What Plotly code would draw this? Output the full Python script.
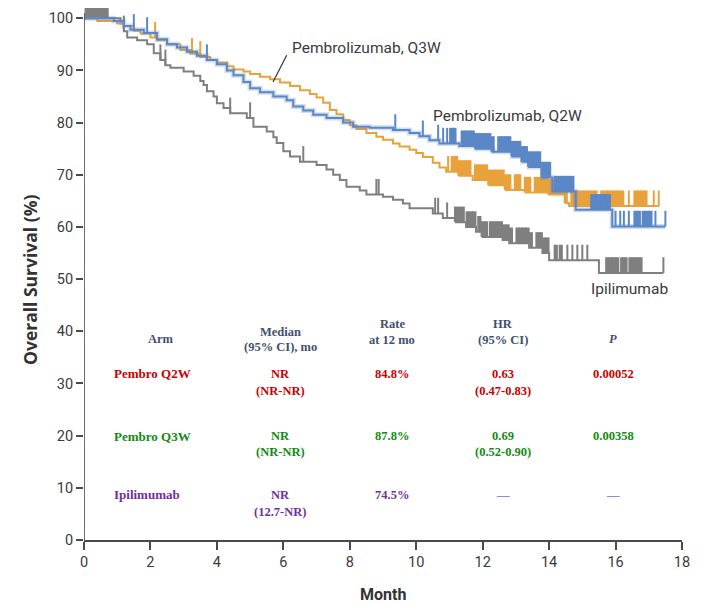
import numpy as np
import plotly.graph_objects as go

# ---------------- data ----------------
q2w_t = [0, 0.9, 1.2, 1.4, 1.8, 2.2, 2.5, 2.8, 3.1, 3.4, 3.7, 4.0, 4.3, 4.5, 4.8, 5.0, 5.3, 5.7, 6.1, 6.3,
         6.6, 6.9, 7.3, 7.8, 8.1, 8.6, 9.3, 9.8, 10.1, 10.4, 10.7, 11.3, 11.8, 12.3, 12.9, 13.2, 13.4, 13.8,
         14.1, 14.8, 15.9, 17.5]
q2w_s = [100, 99.5, 98.5, 97.8, 97.2, 96.0, 95.0, 94.4, 93.6, 92.8, 92.0, 91.2, 90.0, 89.1, 87.8, 86.6, 85.8,
         85.0, 84.3, 83.1, 82.3, 81.5, 80.9, 80.0, 79.2, 79.0, 78.6, 78.0, 77.4, 76.6, 76.0, 75.5, 75.0, 74.4,
         73.5, 72.5, 71.5, 69.5, 66.8, 63.3, 60.1, 60.1]

q3w_t = [0, 0.4, 1.0, 1.2, 1.5, 1.7, 2.0, 2.2, 2.5, 2.9, 3.2, 3.5, 3.8, 4.0, 4.3, 4.5, 4.8, 5.0, 5.3, 5.6,
         5.9, 6.2, 6.5, 6.8, 7.0, 7.2, 7.4, 7.6, 7.8, 8.0, 8.2, 8.5, 8.8, 9.0, 9.3, 9.5, 9.8, 10.0, 10.2, 10.5,
         10.7, 10.9, 11.3, 11.7, 12.2, 12.7, 13.3, 14.0, 14.5, 14.6, 17.3]
q3w_s = [100, 99.5, 99.0, 98.5, 97.6, 97.1, 96.3, 95.8, 95.0, 93.9, 93.2, 92.6, 92.0, 91.5, 90.8, 90.2, 89.8,
         89.3, 88.8, 88.3, 87.7, 87.0, 86.2, 85.5, 84.8, 83.8, 82.4, 81.6, 80.5, 79.5, 78.8, 78.0, 77.3, 76.7,
         76.0, 75.4, 74.8, 74.2, 73.4, 72.3, 71.4, 70.6, 69.8, 69.0, 68.0, 67.1, 66.6, 66.2, 64.6, 64.0, 64.0]

ipi_t = [0, 1.1, 1.2, 1.3, 1.6, 1.9, 2.1, 2.3, 2.45, 2.6, 3.0, 3.3, 3.5, 3.6, 3.7, 3.9, 4.0, 4.2, 4.4, 4.9,
         5.1, 5.5, 5.7, 5.8, 6.0, 6.2, 6.5, 7.0, 7.3, 7.5, 7.7, 7.9, 8.3, 8.5, 9.0, 9.3, 9.6, 9.8, 10.5, 10.8,
         11.2, 11.5, 11.8, 12.0, 12.6, 12.8, 13.4, 13.8, 14.0, 15.5, 17.44]
ipi_s = [100, 99.0, 97.5, 96.3, 95.8, 95.0, 93.3, 92.0, 91.0, 90.5, 89.8, 89.0, 88.0, 87.2, 86.0, 85.0, 83.7,
         82.8, 81.8, 80.9, 79.2, 78.3, 77.2, 76.1, 74.5, 73.5, 72.5, 71.9, 71.0, 70.0, 69.0, 67.7, 67.0, 66.2,
         65.8, 65.2, 64.5, 63.6, 62.6, 61.7, 60.9, 60.0, 59.1, 58.1, 57.5, 56.9, 56.0, 55.0, 53.6, 51.2, 51.2]

# censoring times (single ticks)
q2w_cens = [1.5, 1.9, 3.7, 9.37, 10.2, 10.66, 10.81, 10.93, 11.02, 16.0, 16.14, 16.25, 16.4, 17.2, 17.5]
q3w_cens = [2.14, 3.25, 3.5, 10.96, 16.4, 17.15, 17.3]
ipi_cens = [1.2, 2.3, 2.45, 4.4, 5.0, 6.6, 8.8, 8.87, 10.57, 10.66, 10.93, 14.55, 14.7, 14.85, 15.0, 15.15, 17.44]

# censoring times in dense runs
q2w_cens_dense = [11.1, 11.15, 11.4, 11.5, 11.6, 11.7, 11.8, 11.9, 12.0, 12.1, 12.2, 12.3, 12.5, 12.6, 12.7,
                  12.8, 12.9, 13.0, 13.1, 13.2, 13.3, 13.4, 13.5, 13.6, 13.7, 13.8, 13.9, 14.0, 14.2, 14.3,
                  14.4, 14.5, 14.6, 14.7, 15.3, 15.4, 15.5, 15.6, 15.7, 15.8, 16.6, 16.7, 16.85, 16.95, 17.05]
q3w_cens_dense = [11.1, 11.2, 11.3, 11.4, 11.5, 11.6, 11.8, 11.9, 12.0, 12.1, 12.2, 12.3, 12.4, 12.5, 12.6,
                  12.7, 12.8, 13.0, 13.1, 13.3, 13.4, 13.6, 13.7, 13.8, 13.9, 14.0, 14.1, 14.2, 14.3, 14.4,
                  14.5, 14.7, 14.8, 14.9, 15.0, 15.1, 15.2, 15.3, 15.4, 15.6, 15.7, 15.8, 15.9, 16.0, 16.1,
                  16.2, 16.6, 16.7, 16.8, 16.9]
ipi_cens_dense = [0.08, 0.18, 0.28, 0.38, 0.48, 0.58, 0.68, 11.2, 11.3, 11.4, 11.55, 11.65, 11.75, 11.9, 12.0,
                  12.1, 12.25, 12.35, 12.45, 12.55, 12.65, 12.75, 12.85, 13.05, 13.15, 13.25, 13.35, 13.45,
                  13.65, 13.75, 13.85, 13.95, 14.2, 14.35, 15.75, 15.85, 15.95, 16.05, 16.2, 16.3, 16.45,
                  16.55, 16.65, 16.75]

curve_labels = ["Pembrolizumab, Q3W", "Pembrolizumab, Q2W", "Ipilimumab"]

x_ticks = [0, 2, 4, 6, 8, 10, 12, 14, 16, 18]
y_ticks = [0, 10, 20, 30, 40, 50, 60, 70, 80, 90, 100]

table_header = [["Arm"], ["Median", "(95% CI), mo"], ["Rate", "at 12 mo"], ["HR", "(95% CI)"], ["<i>P</i>"]]
table_arms = ["Pembro Q2W", "Pembro Q3W", "Ipilimumab"]
table_median = [["NR", "(NR-NR)"], ["NR", "(NR-NR)"], ["NR", "(12.7-NR)"]]
table_rate = [["84.8%"], ["87.8%"], ["74.5%"]]
table_hr = [["0.63", "(0.47-0.83)"], ["0.69", "(0.52-0.90)"], ["—"]]
table_p = [["0.00052"], ["0.00358"], ["—"]]

# ---------------- style / layout ----------------
BLUE = "#5b87c6"
ORANGE = "#e9a23b"
GRAY = "#7f7f7f"
TXT = "#3a3a3a"
TICK_H = 3.0
SANS = "Roboto, Arial, sans-serif"
SERIF = "Liberation Serif, Times New Roman, serif"
row_colors = ["#cc0000", "#138a13", "#7030a0"]
DASH_COLOR = "#a47fd4"
HEAD_COLOR = "#42506e"

# page has an 8px body margin; figure sized to compensate
FIG_W, FIG_H = 694, 596
M_L, M_R, M_T, M_B = 76, 20, 0, 64
Y_TOP = 101.97


def surv_at(times, surv, t):
    idx = np.searchsorted(np.array(times), np.array(t), side="right") - 1
    return np.array(surv)[idx]


def tick_segments(times, surv, cens):
    xs, ys = [], []
    base = surv_at(times, surv, cens)
    for c, b in zip(cens, base):
        xs += [c, c, None]
        ys += [b, b + TICK_H, None]
    return xs, ys


fig = go.Figure()

arms = [(ipi_t, ipi_s, ipi_cens, ipi_cens_dense, GRAY),
        (q3w_t, q3w_s, q3w_cens, q3w_cens_dense, ORANGE),
        (q2w_t, q2w_s, q2w_cens, q2w_cens_dense, BLUE)]

for t, s, cens, dense, col in arms:
    if col == BLUE:
        fig.add_trace(go.Scatter(x=t, y=s, mode="lines",
                                 line=dict(shape="hv", color="rgba(91,135,198,0.28)", width=5),
                                 hoverinfo="skip", showlegend=False))
    fig.add_trace(go.Scatter(x=t, y=s, mode="lines", line=dict(shape="hv", color=col, width=2),
                             showlegend=False))
    xs, ys = tick_segments(t, s, cens)
    fig.add_trace(go.Scatter(x=xs, y=ys, mode="lines", line=dict(color=col, width=2),
                             showlegend=False, hoverinfo="skip"))
    xs, ys = tick_segments(t, s, dense)
    fig.add_trace(go.Scatter(x=xs, y=ys, mode="lines", line=dict(color=col, width=4.2),
                             showlegend=False, hoverinfo="skip"))

# curve labels
fig.add_annotation(x=6.2, y=94.3, text=curve_labels[0], showarrow=False, xanchor="left", yanchor="middle",
                   font=dict(family=SANS, size=15.5, color=TXT))
fig.add_annotation(x=10.45, y=81.3, text=curve_labels[1], showarrow=False, xanchor="left", yanchor="middle",
                   font=dict(family=SANS, size=15.5, color=TXT))
fig.add_annotation(x=15.2, y=48.2, text=curve_labels[2], showarrow=False, xanchor="left", yanchor="middle",
                   font=dict(family=SANS, size=15.5, color=TXT))
fig.add_shape(type="line", x0=6.1, y0=92.9, x1=5.69, y1=87.8, line=dict(color="#333333", width=1.2))

# y axis line
fig.add_shape(type="line", x0=0, y0=0, x1=0, y1=101, xref="x", yref="y",
              line=dict(color="#4a4a4a", width=1.6))

# table
col_x = [2.32, 5.9, 9.28, 12.6, 15.93]
arm_left_x = 0.84
head_y = [[38.53], [39.96, 36.9], [41.35, 38.28], [41.35, 38.28], [38.5]]
for cx, hy, lines in zip(col_x, head_y, table_header):
    for yy, txt in zip(hy, lines):
        fig.add_annotation(x=cx, y=yy, text="<b>" + txt + "</b>", showarrow=False, xanchor="center",
                           yanchor="middle", font=dict(family=SERIF, size=12.5, color=HEAD_COLOR))

row_y = [[31.82, 28.56], [19.93, 16.8], [8.63, 5.37]]
for i in range(3):
    c = row_colors[i]
    y1, y2 = row_y[i]
    fig.add_annotation(x=arm_left_x, y=y1, text="<b>" + table_arms[i] + "</b>", showarrow=False,
                       xanchor="left", yanchor="middle", font=dict(family=SERIF, size=13, color=c))
    for cx, cell in zip(col_x[1:], [table_median[i], table_rate[i], table_hr[i], table_p[i]]):
        for yy, txt in zip([y1, y2], cell):
            colr = DASH_COLOR if txt == "—" else c
            fig.add_annotation(x=cx, y=yy, text="<b>" + txt + "</b>", showarrow=False, xanchor="center",
                               yanchor="middle", font=dict(family=SERIF, size=12.5, color=colr))

plot_w = FIG_W - M_L - M_R
plot_h = FIG_H - M_T - M_B

# axis titles (positions given in page pixels, minus the 8px body margin)
fig.add_annotation(xref="paper", yref="paper", x=(30 - 8 - M_L) / plot_w, y=(plot_h - (280 - 8)) / plot_h,
                   text="<b>Overall Survival (%)</b>", showarrow=False, textangle=-90,
                   xanchor="center", yanchor="middle",
                   font=dict(family="Open Sans, Roboto, sans-serif", size=17.5, color="#333333"))
fig.add_annotation(xref="x", yref="paper", x=9.0, y=(plot_h - (594 - 8)) / plot_h,
                   text="<b>Month</b>", showarrow=False, xanchor="center", yanchor="middle",
                   font=dict(family=SANS, size=16, color="#333333"))

fig.update_layout(
    width=FIG_W, height=FIG_H,
    margin=dict(l=M_L, r=M_R, t=M_T, b=M_B, autoexpand=False),
    plot_bgcolor="white", paper_bgcolor="white",
    showlegend=False,
    xaxis=dict(range=[0, 18], tickvals=x_ticks, ticktext=[str(v) for v in x_ticks], ticks="outside",
               ticklen=8, tickwidth=1.5, tickcolor="#4a4a4a", showline=True, linecolor="#4a4a4a",
               linewidth=1.6, showgrid=False, zeroline=False,
               tickfont=dict(family=SANS, size=14.5, color=TXT)),
    yaxis=dict(range=[0, Y_TOP], tickvals=y_ticks, ticktext=[str(v) for v in y_ticks], ticks="outside",
               ticklen=7, tickwidth=1.5, tickcolor="#4a4a4a", showline=False, showgrid=False, zeroline=False,
               tickfont=dict(family=SANS, size=14.5, color=TXT)),
)

fig.write_html("out.html")
